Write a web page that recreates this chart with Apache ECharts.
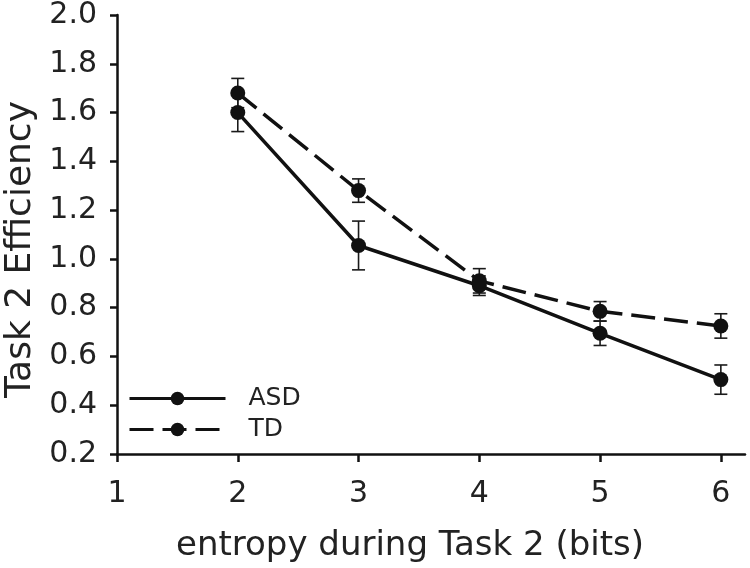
<!DOCTYPE html>
<html><head><meta charset="utf-8">
<script src="https://cdn.jsdelivr.net/npm/echarts@6/dist/echarts.min.js"></script>
<style>html,body{margin:0;padding:0;background:#fff}#c{width:750px;height:568px}</style>
</head><body><div id="c"></div>
<script>
const entropy = [2, 3, 4, 5, 6];
const asdMean = [1.60, 1.055, 0.89, 0.695, 0.505];
const asdErr  = [0.078, 0.10, 0.04, 0.05, 0.06];
const tdMean  = [1.68, 1.28, 0.91, 0.785, 0.725];
const tdErr   = [0.06, 0.048, 0.05, 0.04, 0.05];
const xTicks = [1, 2, 3, 4, 5, 6];
const yTicks = [0.2, 0.4, 0.6, 0.8, 1.0, 1.2, 1.4, 1.6, 1.8, 2.0];

const font = '"DejaVu Sans", sans-serif';
function errData(m, e){ return entropy.map((x,i)=>[x, m[i]-e[i], m[i]+e[i]]); }
function errSeries(name, m, e){
  return {
    type:'custom', name: name+'err', silent:true, z:1,
    data: errData(m,e),
    renderItem: function(params, api){
      const x = api.value(0);
      const lo = api.coord([x, api.value(1)]);
      const hi = api.coord([x, api.value(2)]);
      const w = 6.5;
      const st = {stroke:'#1a1a1a', lineWidth:1.6};
      return {type:'group', children:[
        {type:'line', shape:{x1:lo[0],y1:lo[1],x2:hi[0],y2:hi[1]}, style:st},
        {type:'line', shape:{x1:lo[0]-w,y1:lo[1],x2:lo[0]+w,y2:lo[1]}, style:st},
        {type:'line', shape:{x1:hi[0]-w,y1:hi[1],x2:hi[0]+w,y2:hi[1]}, style:st}
      ]};
    }
  };
}
const chart = echarts.init(document.getElementById('c'));
chart.setOption({
  animation:false,
  backgroundColor:'#fff',
  grid:{left:117, right:5, top:15, bottom:114, containLabel:false, outerBoundsMode:'none'},
  legend:{
    left:128, top:386, orient:'vertical', itemWidth:96, itemHeight:17, itemGap:6, padding:0,
    data:['ASD','TD'],
    lineStyle:{width:3},
    textStyle:{fontFamily:font, fontSize:25, color:'#222', padding:[0,0,0,18]}
  },
  xAxis:{
    type:'value', min:1, max:6.2, interval:1,
    name:'entropy during Task 2 (bits)', nameLocation:'middle', nameGap:75,
    nameTextStyle:{fontFamily:font, fontSize:34, color:'#222', padding:[0,42,0,0]},
    axisLine:{lineStyle:{color:'#111', width:2.5}},
    axisTick:{show:true, length:8, customValues:xTicks, lineStyle:{color:'#111', width:2.5}},
    axisLabel:{fontFamily:font, fontSize:30, color:'#222', margin:25, customValues:xTicks,
      formatter: v => String(Math.round(v))},
    splitLine:{show:false}
  },
  yAxis:{
    type:'value', min:0.2, max:2.0, interval:0.2,
    name:'Task 2 Efficiency', nameLocation:'middle', nameGap:78,
    nameTextStyle:{fontFamily:font, fontSize:36, color:'#222', padding:[0,30,0,0]},
    axisLine:{show:true, lineStyle:{color:'#111', width:2.5}},
    axisTick:{show:true, length:7, lineStyle:{color:'#111', width:2.5}},
    axisLabel:{fontFamily:font, fontSize:30, color:'#222', margin:20,
      formatter: v => { const t = yTicks.find(k=>Math.abs(k-v)<1e-6); return (t!==undefined?t:v).toFixed(1); }},
    splitLine:{show:false}
  },
  series:[
    errSeries('ASD', asdMean, asdErr),
    errSeries('TD', tdMean, tdErr),
    {name:'ASD', type:'line', z:3, data: entropy.map((x,i)=>[x, asdMean[i]]),
     symbol:'circle', symbolSize:15, itemStyle:{color:'#111'},
     lineStyle:{color:'#111', width:3.5}},
    {name:'TD', type:'line', z:3, data: entropy.map((x,i)=>[x, tdMean[i]]),
     symbol:'circle', symbolSize:15, itemStyle:{color:'#111'},
     lineStyle:{color:'#111', width:3.5, type:[24,9]}}
  ]
});
</script></body></html>
